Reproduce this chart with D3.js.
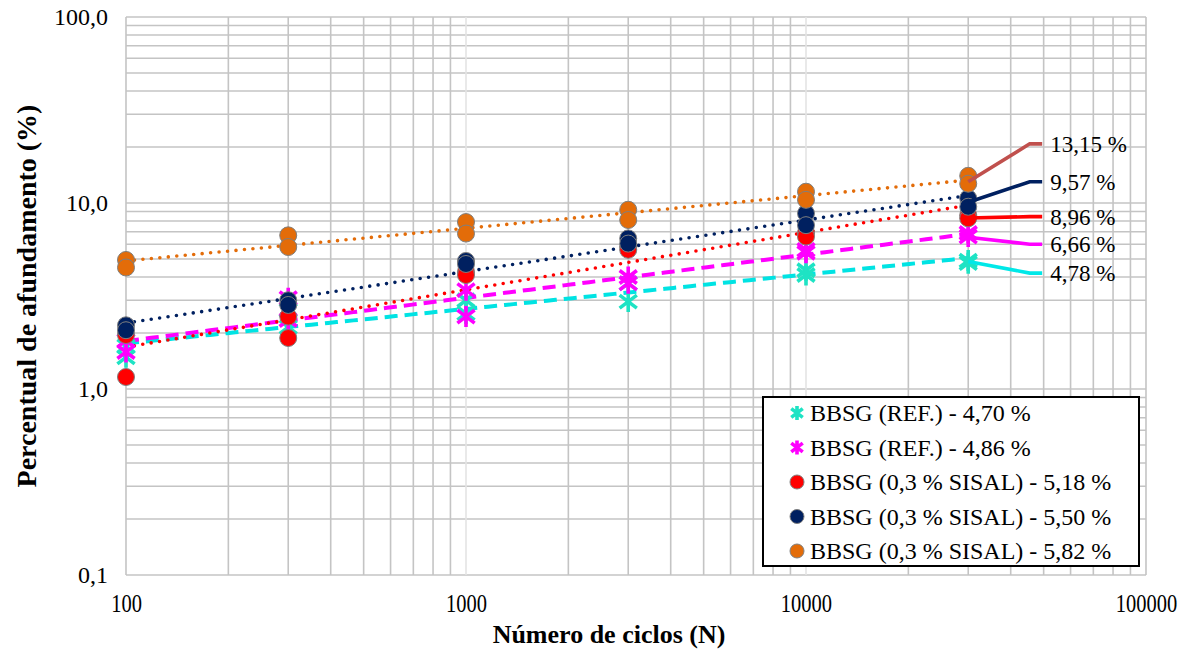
<!DOCTYPE html>
<html>
<head>
<meta charset="utf-8">
<script src="https://cdn.jsdelivr.net/npm/d3@7"></script>
<style>
  html, body { margin: 0; padding: 0; background: #ffffff; }
  svg { display: block; font-family: "Liberation Serif", "Times New Roman", serif; }
</style>
</head>
<body>
<svg id="chart" width="1195" height="650"></svg>
<script>
// ---------------- DATA ----------------
const cycles = [100, 300, 1000, 3000, 10000, 30000];
const seriesNames = [
  "BBSG (REF.) - 4,70 %",
  "BBSG (REF.) - 4,86 %",
  "BBSG (0,3 % SISAL) - 5,18 %",
  "BBSG (0,3 % SISAL) - 5,50 %",
  "BBSG (0,3 % SISAL) - 5,82 %"
];
// two readings per number of cycles
const ref470 = [[1.70, 1.48], [2.65, 2.15], [3.00, 2.55], [3.70, 2.95], [4.35, 4.10], [4.90, 4.75]];
const ref486 = [[1.82, 1.58], [3.08, 2.35], [3.40, 2.45], [4.00, 3.70], [5.60, 5.40], [6.90, 6.60]];
const sisal518 = [[1.95, 1.16], [2.45, 1.88], [4.27, 4.10], [5.80, 5.60], [6.90, 6.60], [8.60, 8.27]];
const sisal550 = [[2.20, 2.07], [3.00, 2.83], [4.88, 4.70], [6.45, 6.05], [8.80, 7.60], [10.6, 9.55]];
const sisal582 = [[4.94, 4.50], [6.70, 5.80], [7.90, 6.85], [9.20, 8.10], [11.5, 10.4], [14.0, 12.7]];
// end annotations (value texts and leader-line values, in data units)
const endLabels = ["4,78 %", "6,66 %", "8,96 %", "9,57 %", "13,15 %"];
const leaderFrom = [4.85, 6.55, 8.30, 10.1, 13.0];
const leaderTo = [4.20, 6.00, 8.45, 13.0, 20.8];
const xTickLabels = ["100", "1000", "10000", "100000"];
const yTickLabels = ["0,1", "1,0", "10,0", "100,0"];

// ---------------- STYLE ----------------
const markerColors = ["#1ee3c4", "#ff00ff", "#ff0000", "#002060", "#e36c09"];
const trendColors = ["#00e3e3", "#ff00ff", "#ff0000", "#002060", "#e36c09"];
const leaderColors = ["#00e8e8", "#ff00ff", "#ff0000", "#002060", "#c0504d"];
const markerTypes = ["star", "star", "circle", "circle", "circle"];
const trendDash = ["dash", "dash", "dot", "dot", "dot"];

const svg = d3.select("#chart");
const L = 126, R = 1146, T = 17, B = 575;
const x = d3.scaleLog().domain([100, 100000]).range([L, R]);
const y = d3.scaleLog().domain([0.1, 100]).range([B, T]);

// ---------------- GRID ----------------
const grid = svg.append("g");
const xGridVals = [];
for (let d = 100; d < 100000; d *= 10) for (let k = 1; k <= 9; k++) xGridVals.push(d * k);
xGridVals.push(100000);
const yGridVals = [];
for (let d = 0.1; d < 99; d *= 10) for (let k = 1; k <= 9; k++) yGridVals.push(+(d * k).toPrecision(3));
yGridVals.push(100);

grid.selectAll("line.yg").data(yGridVals).join("line")
  .attr("x1", L).attr("x2", R)
  .attr("y1", d => y(d)).attr("y2", d => y(d))
  .attr("stroke", "#c4c4c4").attr("stroke-width", 1.6);
grid.selectAll("line.xg").data(xGridVals).join("line")
  .attr("y1", T).attr("y2", B)
  .attr("x1", d => x(d)).attr("x2", d => x(d))
  .attr("stroke", d => (d === 1000 || d === 10000) ? "#e4e4e4" : "#c4c4c4")
  .attr("stroke-width", 1.6);

// ---------------- AXES ----------------
const xAxis = d3.axisBottom(x).tickValues([100, 1000, 10000, 100000])
  .tickFormat((d, i) => xTickLabels[i]).tickSize(0).tickPadding(0);
const xg = svg.append("g").attr("transform", `translate(0,${B})`).call(xAxis);
xg.select(".domain").remove();
xg.selectAll(".tick text").attr("font-family", "Liberation Serif").attr("font-size", 25)
  .attr("fill", "#000").attr("y", 0).attr("dy", 0)
  .attr("transform", "translate(0,37) scale(0.82,1)");

const yAxis = d3.axisLeft(y).tickValues([0.1, 1, 10, 100])
  .tickFormat((d, i) => yTickLabels[i]).tickSize(0).tickPadding(18);
const yg = svg.append("g").attr("transform", `translate(${L},0)`).call(yAxis);
yg.select(".domain").remove();
yg.selectAll("text").attr("font-family", "Liberation Serif").attr("font-size", 24).attr("fill", "#000");

svg.append("text").attr("x", 609).attr("y", 643).attr("text-anchor", "middle")
  .attr("font-weight", "bold").attr("font-size", 26).text("Número de ciclos (N)");
svg.append("text").attr("transform", "translate(36,296) rotate(-90)").attr("text-anchor", "middle")
  .attr("font-weight", "bold").attr("font-size", 28).text("Percentual de afundamento (%)");

// ---------------- SERIES ----------------
const allSeries = [ref470, ref486, sisal518, sisal550, sisal582];

function starPath(r) {
  const a = r * 0.82, b = r * 0.62;
  return `M0,${-r}L0,${r}M${-a},${-b}L${a},${b}M${-a},${b}L${a},${-b}`;
}

// trend lines (power regression in log-log space)
const trendG = svg.append("g");
allSeries.forEach((s, i) => {
  const pts = [];
  s.forEach((pair, j) => pair.forEach(v => pts.push([Math.log10(cycles[j]), Math.log10(v)])));
  const mx = d3.mean(pts, p => p[0]), my = d3.mean(pts, p => p[1]);
  const slope = d3.sum(pts, p => (p[0] - mx) * (p[1] - my)) / d3.sum(pts, p => (p[0] - mx) ** 2);
  const icpt = my - slope * mx;
  const tx = d3.range(0, 101).map(k => 2 + k * (Math.log10(30000) - 2) / 100);
  const line = d3.line().x(d => x(10 ** d)).y(d => y(10 ** (icpt + slope * d)));
  const p = trendG.append("path").datum(tx).attr("d", line).attr("fill", "none")
    .attr("stroke", trendColors[i]);
  if (trendDash[i] === "dot") {
    p.attr("stroke-width", 3.6).attr("stroke-linecap", "round").attr("stroke-dasharray", "0 8.5");
  } else {
    p.attr("stroke-width", 4).attr("stroke-dasharray", "13 7");
  }
});

// markers
const markG = svg.append("g");
allSeries.forEach((s, i) => {
  const flat = [];
  s.forEach((pair, j) => pair.forEach(v => flat.push({ n: cycles[j], v })));
  const g = markG.append("g");
  if (markerTypes[i] === "circle") {
    g.selectAll("circle").data(flat).join("circle")
      .attr("cx", d => x(d.n)).attr("cy", d => y(d.v)).attr("r", 8.5)
      .attr("fill", markerColors[i]).attr("stroke", "#7f7f7f").attr("stroke-width", 1);
  } else {
    g.selectAll("path").data(flat).join("path")
      .attr("transform", d => `translate(${x(d.n)},${y(d.v)})`)
      .attr("d", starPath(10.5)).attr("fill", "none")
      .attr("stroke", markerColors[i]).attr("stroke-width", 3.6);
  }
});

// leader lines + end labels
const leadG = svg.append("g");
allSeries.forEach((s, i) => {
  const pts = [[30000, leaderFrom[i]], [45500, leaderTo[i]], [49500, leaderTo[i]]];
  leadG.append("path").datum(pts)
    .attr("d", d3.line().x(d => x(d[0])).y(d => y(d[1])))
    .attr("fill", "none").attr("stroke", leaderColors[i]).attr("stroke-width", 3.6);
  leadG.append("text").attr("x", x(49500) + 8).attr("y", y(leaderTo[i])).attr("dy", "0.35em")
    .attr("font-size", 23).attr("fill", "#000").text(endLabels[i]);
});

// ---------------- LEGEND ----------------
const lg = svg.append("g");
lg.append("rect").attr("x", 763).attr("y", 397).attr("width", 376).attr("height", 169)
  .attr("fill", "#fff").attr("stroke", "#000").attr("stroke-width", 2);
seriesNames.forEach((name, i) => {
  const cy = 413 + i * 34.5;
  if (markerTypes[i] === "circle") {
    lg.append("circle").attr("cx", 797).attr("cy", cy).attr("r", 7)
      .attr("fill", markerColors[i]).attr("stroke", "#7f7f7f").attr("stroke-width", 1);
  } else {
    lg.append("path").attr("transform", `translate(797,${cy})`).attr("d", starPath(7))
      .attr("fill", "none").attr("stroke", markerColors[i]).attr("stroke-width", 3.6);
  }
  lg.append("text").attr("x", 810).attr("y", cy).attr("dy", "0.35em")
    .attr("font-size", 24).attr("fill", "#000").text(name);
});
</script>
</body>
</html>
